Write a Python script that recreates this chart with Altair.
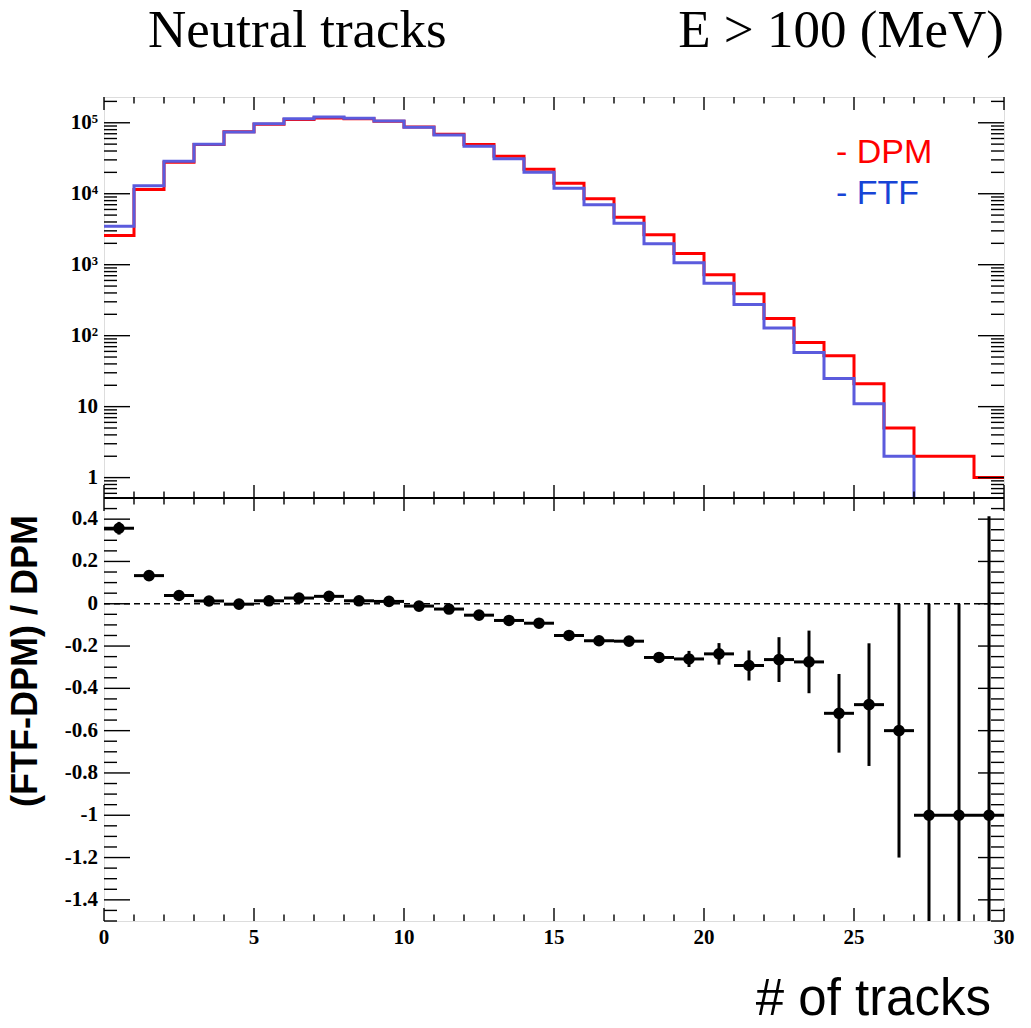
import altair as alt
import pandas as pd

# ---------------- data ----------------
bin_low = list(range(30))
dpm_counts = [2570, 11500, 27700, 49300, 74500, 95500, 111000, 117000, 114000, 105000,
              87500, 69000, 49300, 33700, 22100, 14000, 8500, 4670, 2650, 1440,
              720, 390, 174, 80, 52, 21, 5, 2, 2, 1]
ftf_counts = [3480, 13000, 28800, 49900, 74400, 96800, 114000, 121000, 115600, 106200,
              86500, 67300, 46600, 31000, 20100, 11900, 7010, 3840, 1977, 1064,
              549, 276, 128, 58, 25, 11, 2, 0, 0, 0]
ratio = [0.357, 0.133, 0.039, 0.013, -0.002, 0.014, 0.027, 0.035, 0.014, 0.011,
         -0.011, -0.025, -0.054, -0.079, -0.092, -0.150, -0.175, -0.177, -0.254, -0.261,
         -0.237, -0.292, -0.264, -0.275, -0.518, -0.477, -0.600, -1.0, -1.0, -1.0]
ratio_err = [0.030, 0.012, 0.007, 0.005, 0.004, 0.004, 0.004, 0.004, 0.004, 0.004,
             0.005, 0.005, 0.006, 0.007, 0.009, 0.011, 0.014, 0.018, 0.024, 0.038,
             0.051, 0.071, 0.106, 0.148, 0.186, 0.290, 0.600, 1.0, 1.0, 1.414]

x_tick_values = list(range(0, 31))
x_label_values = [0, 5, 10, 15, 20, 25, 30]
top_y_label_values = [1, 10, 100, 1000, 10000, 100000]
top_y_label_texts = ["1", "10", "10²", "10³", "10⁴", "10⁵"]
bottom_y_label_values = [0.4, 0.2, 0, -0.2, -0.4, -0.6, -0.8, -1, -1.2, -1.4]
titles = ["Neutral tracks", "E > 100 (MeV)"]
legend_labels = ["- DPM", "- FTF"]
x_title = "# of tracks"
y_title = "(FTF-DPM) / DPM"

# ---------------- layout constants ----------------
W = 900
H_TOP = 401
H_BOT = 423
H = H_TOP + H_BOT
TOP_DOMAIN = [0.516, 230700]
BOT_DOMAIN = [-1.5, 0.5]
RED = "#ff0000"
BLUE_LINE = "#5b5bdd"
BLUE_TEXT = "#1744d6"
LBL_FONT = "Liberation Serif"
LBL_SIZE = 21

xscale = alt.Scale(domain=[0, 30], nice=False, zero=False)
yscale_top = alt.Scale(type="log", domain=TOP_DOMAIN, range=[H_TOP, 0], nice=False)
yscale_bot = alt.Scale(domain=BOT_DOMAIN, range=[H, H_TOP], nice=False, zero=False)


def steps(counts):
    xs, ys = [], []
    for i, c in enumerate(counts):
        if c <= 0:
            xs.append(i)
            ys.append(TOP_DOMAIN[0])
            break
        xs.append(i)
        ys.append(c)
    else:
        xs.append(len(counts))
        ys.append(counts[-1])
    return pd.DataFrame({"edge": xs, "count": ys})


def x_ticks(values, y0, y1):
    df = pd.DataFrame({"t": values})
    return alt.Chart(df).mark_rule(color="black", strokeWidth=1.4).encode(
        x=alt.X("t:Q", scale=xscale, axis=None),
        y=alt.value(y0), y2=alt.value(y1))


def y_ticks(values, yscale, x0, x1):
    df = pd.DataFrame({"t": values})
    return alt.Chart(df).mark_rule(color="black", strokeWidth=1.4).encode(
        y=alt.Y("t:Q", scale=yscale, axis=None),
        x=alt.value(x0), x2=alt.value(x1))


def y_labels(values, texts, yscale):
    df = pd.DataFrame({"v": values, "label": texts})
    return alt.Chart(df).mark_text(
        font=LBL_FONT, fontWeight="bold", fontSize=LBL_SIZE, align="right",
        baseline="middle", color="black").encode(
        y=alt.Y("v:Q", scale=yscale, axis=None), x=alt.value(-6), text="label:N")


def fixed_text(label, x, y, **kw):
    return alt.Chart(pd.DataFrame({"label": [label]})).mark_text(**kw).encode(
        text="label:N", x=alt.value(x), y=alt.value(y))


x_major = [v for v in x_tick_values if v % 5 == 0]
x_minor = [v for v in x_tick_values if v % 5 != 0]
MAJ_X, MIN_X = 13, 6.5
MAJ_Y, MIN_Y = 26, 13

log_major = [10.0 ** k for k in range(-1, 6) if TOP_DOMAIN[0] <= 10.0 ** k <= TOP_DOMAIN[1]]
log_minor = [d * 10.0 ** k for k in range(-1, 6) for d in range(2, 10)
             if TOP_DOMAIN[0] <= d * 10.0 ** k <= TOP_DOMAIN[1]]

lin_ticks = [round(-1.5 + 0.05 * i, 2) for i in range(41)]
lin_major = [v for v in lin_ticks if abs(v / 0.2 - round(v / 0.2)) < 1e-6]
lin_minor = [v for v in lin_ticks if v not in lin_major]

# ---------------- top panel ----------------
dpm_line = alt.Chart(steps(dpm_counts)).mark_line(
    interpolate="step-after", color=RED, strokeWidth=3, clip=True).encode(
    x=alt.X("edge:Q", scale=xscale, axis=None),
    y=alt.Y("count:Q", scale=yscale_top, axis=None))
ftf_line = alt.Chart(steps(ftf_counts)).mark_line(
    interpolate="step-after", color=BLUE_LINE, strokeWidth=3, clip=True).encode(
    x=alt.X("edge:Q", scale=xscale, axis=None),
    y=alt.Y("count:Q", scale=yscale_top, axis=None))

top = alt.layer(
    dpm_line, ftf_line,
    x_ticks(x_major, 0, MAJ_X), x_ticks(x_minor, 0, MIN_X),
    x_ticks(x_major, H_TOP, H_TOP - MAJ_X), x_ticks(x_minor, H_TOP, H_TOP - MIN_X),
    y_ticks(log_major, yscale_top, 0, MAJ_Y), y_ticks(log_minor, yscale_top, 0, MIN_Y),
    y_ticks(log_major, yscale_top, W, W - MAJ_Y), y_ticks(log_minor, yscale_top, W, W - MIN_Y),
    y_labels(top_y_label_values, top_y_label_texts, yscale_top),
)

# ---------------- bottom panel ----------------
rdf = pd.DataFrame({
    "lo": bin_low,
    "hi": [b + 1 for b in bin_low],
    "c": [b + 0.5 for b in bin_low],
    "r": ratio,
    "r_lo": [r - e for r, e in zip(ratio, ratio_err)],
    "r_hi": [r + e for r, e in zip(ratio, ratio_err)],
})

zero_line = alt.Chart(pd.DataFrame({"z": [0]})).mark_rule(
    color="black", strokeWidth=1.5, strokeDash=[6, 4]).encode(
    y=alt.Y("z:Q", scale=yscale_bot, axis=None), x=alt.value(0), x2=alt.value(W))
hbars = alt.Chart(rdf).mark_rule(color="black", strokeWidth=3, clip=True).encode(
    x=alt.X("lo:Q", scale=xscale, axis=None), x2="hi:Q",
    y=alt.Y("r:Q", scale=yscale_bot, axis=None))
vbars = alt.Chart(rdf).mark_rule(color="black", strokeWidth=3, clip=True).encode(
    x=alt.X("c:Q", scale=xscale, axis=None),
    y=alt.Y("r_lo:Q", scale=yscale_bot, axis=None), y2="r_hi:Q")
points = alt.Chart(rdf).mark_circle(color="black", size=135, opacity=1, clip=True).encode(
    x=alt.X("c:Q", scale=xscale, axis=None),
    y=alt.Y("r:Q", scale=yscale_bot, axis=None))

x_lab_df = pd.DataFrame({"v": x_label_values, "label": [str(v) for v in x_label_values]})
x_labels = alt.Chart(x_lab_df).mark_text(
    font=LBL_FONT, fontWeight="bold", fontSize=LBL_SIZE, align="center",
    baseline="top", color="black").encode(
    x=alt.X("v:Q", scale=xscale, axis=None), y=alt.value(H + 6), text="label:N")

bottom = alt.layer(
    zero_line, hbars, vbars, points,
    x_ticks(x_major, H_TOP, H_TOP + MAJ_X), x_ticks(x_minor, H_TOP, H_TOP + MIN_X),
    x_ticks(x_major, H, H - MAJ_X), x_ticks(x_minor, H, H - MIN_X),
    y_ticks(lin_major, yscale_bot, 0, MAJ_Y), y_ticks(lin_minor, yscale_bot, 0, MIN_Y),
    y_ticks(lin_major, yscale_bot, W, W - MAJ_Y), y_ticks(lin_minor, yscale_bot, W, W - MIN_Y),
    y_labels(bottom_y_label_values, [f"{v:g}" for v in bottom_y_label_values], yscale_bot),
    x_labels,
)

# ---------------- annotations ----------------
sep = alt.Chart(pd.DataFrame({"s": [1]})).mark_rule(color="black", strokeWidth=2).encode(
    x=alt.value(0), x2=alt.value(W), y=alt.value(H_TOP))

t_left = fixed_text(titles[0], 44, -50, font="Liberation Serif", fontSize=53,
                    align="left", baseline="alphabetic", color="black")
t_right = fixed_text(titles[1], 900, -50, font="Liberation Serif", fontSize=53,
                     align="right", baseline="alphabetic", color="black")
leg_dpm = fixed_text(legend_labels[0], 732, 66, font="Liberation Sans", fontSize=34,
                     align="left", baseline="alphabetic", color=RED)
leg_ftf = fixed_text(legend_labels[1], 732, 107, font="Liberation Sans", fontSize=34,
                     align="left", baseline="alphabetic", color=BLUE_TEXT)
ytitle = fixed_text(y_title, -78, 564, font="Liberation Sans", fontWeight="bold",
                    fontSize=36, angle=270, align="center", baseline="middle", color="black")
xtitle = fixed_text(x_title, 887, H + 94, font="Liberation Sans", fontSize=51,
                    align="right", baseline="alphabetic", color="black")

chart = alt.layer(top, bottom, sep, t_left, t_right, leg_dpm, leg_ftf, ytitle, xtitle).resolve_scale(
    y="independent").properties(
    width=W, height=H,
    autosize=alt.AutoSizeParams(type="none"),
    padding={"left": 104, "top": 97, "right": 27, "bottom": 107},
).configure_view(stroke="black", strokeWidth=2).configure(background="white")

chart.save("out.html", embed_options={"renderer": "svg", "actions": False})
